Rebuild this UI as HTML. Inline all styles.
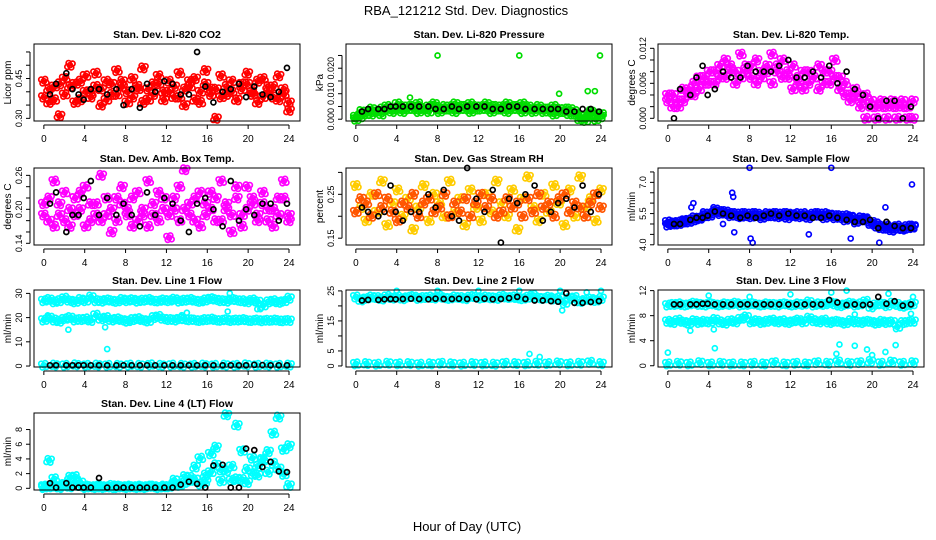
<!DOCTYPE html>
<html><head><meta charset="utf-8"><style>
html,body{margin:0;padding:0;background:#fff;width:936px;height:540px;overflow:hidden}
svg text{font-family:"Liberation Sans",Arial,sans-serif}
</style></head><body>
<svg id="chart" width="936" height="540" viewBox="0 0 936 540" xmlns="http://www.w3.org/2000/svg">
<text x="466" y="15" font-size="13" text-anchor="middle">RBA_121212  Std. Dev. Diagnostics</text>
<text x="467" y="531" font-size="13" text-anchor="middle">Hour of Day (UTC)</text>
</svg>
<script>
const blackHours=[0.6,1.2,2.2,2.8,3.4,3.9,4.6,5.4,6.2,7.1,7.8,8.6,9.4,10.1,10.9,11.8,12.6,13.4,14.2,15.0,15.8,16.6,17.5,18.3,19.1,19.8,20.6,21.4,22.2,23.0,23.8];
const xTicks=[0,4,8,12,16,20,24];
// CO2
const co2A=[0.44,0.36,0.42,0.31,0.45,0.50,0.43,0.37,0.46,0.40,0.47,0.35,0.44,0.39,0.48,0.42,0.36,0.45,0.41,0.49,0.37,0.43,0.46,0.40,0.44,0.38,0.47,0.35,0.42,0.45,0.36,0.48,0.41,0.30,0.46,0.39,0.44,0.37,0.43,0.47,0.40,0.36,0.45,0.42,0.38,0.46,0.41,0.33];
const co2B=[0.38,0.41,0.37,0.43,0.39,0.42,0.36,0.44,0.40,0.38,0.42,0.41,0.37,0.43,0.39,0.44,0.40,0.38,0.42,0.36,0.41,0.39,0.43,0.37,0.40,0.42,0.38,0.41,0.44,0.37,0.40,0.43,0.39,0.41,0.38,0.42,0.40,0.37,0.41,0.43,0.39,0.44,0.38,0.40,0.42,0.37,0.39,0.36];
const co2Black=[0.39,0.43,0.47,0.41,0.39,0.37,0.41,0.41,0.39,0.41,0.35,0.41,0.34,0.43,0.40,0.44,0.43,0.39,0.39,0.55,0.42,0.36,0.40,0.41,0.43,0.38,0.42,0.39,0.38,0.40,0.49];
const co2Ticks=[0.30,0.35,0.40,0.45,0.50,0.55], co2Labels=[0.30,0.45];
// Pressure
const prA=[0.001,0.003,0.002,0.004,0.003,0.004,0.005,0.004,0.006,0.005,0.004,0.005,0.006,0.004,0.005,0.006,0.004,0.005,0.005,0.006,0.004,0.005,0.006,0.005,0.004,0.006,0.005,0.004,0.005,0.006,0.005,0.004,0.006,0.005,0.004,0.005,0.004,0.003,0.005,0.004,0.003,0.004,0.002,0.000,0.001,0.003,0.002,0.001];
const prB=[0.000,0.001,0.003,0.002,0.003,0.002,0.004,0.003,0.004,0.003,0.005,0.004,0.003,0.004,0.003,0.005,0.003,0.004,0.004,0.003,0.005,0.004,0.003,0.004,0.005,0.004,0.003,0.005,0.004,0.003,0.004,0.005,0.003,0.004,0.003,0.004,0.003,0.004,0.002,0.003,0.004,0.002,0.003,0.001,-0.0005,0.002,0.000,0.002];
const prOutX=[8,16,23.9,19.9,22.7,23.4,5.3], prOutY=[0.025,0.025,0.025,0.010,0.011,0.011,0.0085];
const prBlack=[0.003,0.004,0.004,0.004,0.005,0.005,0.005,0.005,0.005,0.005,0.004,0.004,0.005,0.004,0.005,0.005,0.005,0.004,0.004,0.005,0.005,0.004,0.004,0.004,0.004,0.004,0.003,0.003,0.004,0.004,0.003];
const prTicks=[0,0.005,0.010,0.015,0.020,0.025], prLabels=[0,0.010,0.020];
// Temp
const tpA=[0.004,0.002,0.003,0.005,0.004,0.006,0.005,0.007,0.006,0.008,0.007,0.010,0.009,0.008,0.011,0.009,0.007,0.010,0.008,0.009,0.011,0.008,0.010,0.007,0.009,0.006,0.005,0.008,0.007,0.009,0.006,0.008,0.010,0.007,0.006,0.004,0.005,0.003,0.004,0.003,0.002,0.003,0.002,0.003,0.002,0.003,0.002,0.003];
const tpB=[0.003,0.004,0.002,0.003,0.005,0.004,0.007,0.006,0.008,0.006,0.009,0.007,0.008,0.006,0.007,0.008,0.009,0.006,0.007,0.008,0.006,0.009,0.007,0.008,0.005,0.007,0.008,0.006,0.007,0.005,0.008,0.006,0.007,0.005,0.004,0.003,0.004,0.002,0,0.002,0,0.002,0,0.002,0,0.002,0,0];
const tpBlack=[0,0.005,0.004,0.007,0.009,0.004,0.005,0.008,0.007,0.007,0.009,0.008,0.008,0.008,0.009,0.010,0.007,0.007,0.008,0.007,0.009,0.006,0.008,0.005,0.004,0.002,0.000,0.003,0.003,0.000,0.002];
const tpTicks=[0,0.002,0.004,0.006,0.008,0.010,0.012], tpLabels=[0,0.006,0.012];
// Amb box temp
const abA=[0.21,0.18,0.25,0.19,0.23,0.17,0.22,0.20,0.24,0.18,0.21,0.26,0.19,0.16,0.22,0.24,0.20,0.17,0.23,0.19,0.25,0.21,0.18,0.22,0.15,0.20,0.24,0.27,0.19,0.22,0.17,0.21,0.23,0.18,0.25,0.20,0.16,0.22,0.19,0.24,0.21,0.18,0.23,0.20,0.17,0.22,0.25,0.19];
const abB=[0.19,0.22,0.17,0.21,0.18,0.20,0.19,0.23,0.17,0.21,0.19,0.18,0.22,0.20,0.18,0.21,0.19,0.22,0.18,0.20,0.17,0.19,0.23,0.20,0.19,0.22,0.18,0.20,0.21,0.18,0.23,0.19,0.20,0.22,0.18,0.21,0.19,0.24,0.17,0.20,0.22,0.19,0.21,0.18,0.20,0.19,0.22,0.18];
const abBlack=[0.21,0.23,0.16,0.19,0.19,0.22,0.25,0.19,0.22,0.19,0.21,0.19,0.17,0.23,0.19,0.22,0.21,0.18,0.16,0.21,0.22,0.20,0.17,0.25,0.18,0.20,0.19,0.21,0.21,0.18,0.21];
const abTicks=[0.14,0.16,0.18,0.20,0.22,0.24,0.26], abLabels=[0.14,0.20,0.26];
// RH
const rhA=[0.27,0.22,0.19,0.25,0.21,0.28,0.18,0.23,0.26,0.20,0.24,0.17,0.22,0.27,0.19,0.25,0.23,0.20,0.28,0.21,0.24,0.18,0.26,0.22,0.19,0.25,0.21,0.28,0.23,0.20,0.26,0.17,0.24,0.29,0.22,0.19,0.25,0.21,0.27,0.23,0.18,0.26,0.20,0.29,0.22,0.24,0.19,0.26];
const rhB=[0.21,0.24,0.23,0.20,0.25,0.22,0.24,0.21,0.19,0.23,0.22,0.25,0.20,0.23,0.24,0.21,0.22,0.25,0.20,0.23,0.21,0.24,0.20,0.23,0.25,0.22,0.24,0.20,0.21,0.24,0.22,0.23,0.20,0.24,0.21,0.25,0.22,0.23,0.20,0.24,0.25,0.21,0.23,0.22,0.20,0.23,0.25,0.22];
const rhBlack=[0.22,0.21,0.20,0.21,0.27,0.21,0.19,0.21,0.21,0.25,0.22,0.26,0.20,0.19,0.31,0.24,0.21,0.26,0.14,0.24,0.23,0.25,0.27,0.19,0.21,0.23,0.24,0.22,0.27,0.21,0.25];
const rhTicks=[0.15,0.20,0.25,0.30], rhLabels=[0.15,0.25];
// Sample flow
const sfA=[5.1,5.0,5.1,5.1,5.2,5.2,5.3,5.4,5.5,5.6,5.6,5.5,5.5,5.4,5.5,5.4,5.5,5.4,5.4,5.5,5.4,5.5,5.4,5.5,5.4,5.5,5.4,5.4,5.5,5.4,5.5,5.4,5.4,5.3,5.4,5.3,5.2,5.3,5.2,5.1,5.0,4.9,4.8,4.8,4.9,4.8,4.8,4.9];
const sfB=[4.95,5.05,5.0,5.15,5.1,5.3,5.25,5.5,5.4,5.7,5.5,5.6,5.4,5.5,5.35,5.5,5.35,5.5,5.3,5.4,5.5,5.35,5.5,5.3,5.45,5.35,5.5,5.3,5.4,5.5,5.3,5.45,5.3,5.4,5.2,5.35,5.1,5.2,5.25,5.0,4.9,4.8,4.9,4.7,4.8,4.75,4.9,4.85];
const sfOutX=[8.0,16.0,23.9,6.3,6.4,2.5,2.3,8.1,8.3,6.5,17.9,13.8,20.7,21.3,5.4], sfOutY=[7.7,7.7,6.9,6.5,6.3,6.0,5.8,4.3,4.1,4.6,4.3,4.5,4.1,5.8,5.0];
const sfBlack=[5.0,5.0,5.2,5.3,5.3,5.4,5.6,5.5,5.4,5.3,5.4,5.3,5.4,5.5,5.4,5.5,5.4,5.4,5.3,5.3,5.4,5.3,5.2,5.1,5.1,5.2,4.8,5.1,4.9,4.8,4.8];
const sfTicks=[4.0,4.5,5.0,5.5,6.0,6.5,7.0,7.5], sfLabels=[4.0,5.5,7.0];
// Line 1
const l1A=[27,27.5,26.5,27,28,27,26.5,27.5,27,28.5,27,26.8,27.3,27,26.7,27.5,27,27.4,26.8,27.2,27.5,27,26.9,27.3,27,27.6,26.8,27.2,27.5,27,26.7,27.3,27.8,27.4,27,26.8,27.5,27.2,27,26.5,27.3,26.6,25,26.5,27,26.3,26.8,28];
const l1B=[19,20,19,18.5,19.5,20,19,19.2,19.5,18.8,21,19.5,20,19,19.5,19,18.5,19.2,19.6,19,18.6,20,20.5,19.5,19.2,19,19.5,19.3,19.1,19,18.8,19.2,19.4,19,18.9,19.1,18.8,19,19.2,18.9,18.8,19,18.7,18.9,19,18.8,18.7,18.8];
const l1C=[0.3,0.4,0.3,0.5,0.3,0.4,0.3,0.3,0.4,0.3,0.5,0.3,0.4,0.3,0.3,0.4,0.3,0.4,0.3,0.5,0.3,0.4,0.3,0.4];
const l1OutX=[2.4,6.0,6.2,18.0,18.2,0.4,20.9,21.2,13.5,14.0], l1OutY=[15,16,7,22.5,30,20.5,23.5,23.5,21,22];
const l1Black=[0.3,0.3,0.3,0.3,0.3,0.3,0.3,0.3,0.3,0.3,0.3,0.3,0.3,0.3,0.3,0.3,0.3,0.3,0.3,0.3,0.3,0.3,0.3,0.3,0.3,0.3,0.5,0.4,0.3,0.3,0.3];
const l1Ticks=[0,10,20,30], l1Labels=[0,10,20,30];
// Line 2
const l2A=[23,22,22.5,23,22.8,22.3,23.2,22.6,23,22.4,22.9,23.1,22.5,22.8,23,22.6,23.2,22.7,22.5,23,22.8,22.4,23.1,22.9,22.6,23,22.7,22.5,23.2,22.8,23,22.6,22.4,22.9,23.5,22.7,22.5,22.9,22.3,22.6,21,22.5,22.8,21.5,22,22.3,21.8,22.5];
const l2B=[0.7,0.8,0.6,0.9,0.7,0.8,0.6,0.7,0.9,0.7,0.6,0.8,0.7,0.6,0.9,0.8,0.7,0.9,0.8,1.0,0.7,0.9,1.2,0.8];
const l2OutX=[4,8,12,16,20,24,20.2,17,18,22.6], l2OutY=[25,25,25,25,25,25,18.5,4,3,24.5];
const l2Black=[21.8,22,22,22.2,22.3,22.2,22.3,22.4,22.3,22.2,22.4,22.3,22.3,22.4,22.3,22.2,22.4,22.2,22.3,22.6,23,22.3,21.8,21.8,21.6,21.4,24.2,21,21,21.3,21.6];
const l2Ticks=[0,5,10,15,20,25], l2Labels=[0,5,15,25];
// Line 3
const l3A=[9.7,9.8,9.9,9.7,9.8,10,9.8,9.7,9.9,9.8,9.7,9.9,9.8,10,9.7,9.8,9.9,9.8,9.7,9.9,9.8,9.7,9.9,9.8,9.7,9.9,9.8,10.2,9.7,9.9,9.8,10.1,9.9,9.6,9.8,10,9.7,9.9,10.3,9.4,9.8,9.9,9.6,10,9.8,9.5,9.7,9.9];
const l3B=[7.1,6.9,7.3,7.0,6.8,7.2,6.9,7.1,7.0,7.4,7.0,6.8,7.2,7.0,7.5,7.8,7.0,7.2,6.9,7.1,7.3,7.0,7.2,6.9,7.1,7.3,7.0,7.6,7.2,7.0,7.3,6.9,7.1,7.0,6.8,7.2,7.0,6.9,7.1,7.0,6.8,7.1,6.9,7.0,6.2,6.9,7.0,7.1];
const l3C=[0.3,0.4,0.3,0.5,0.3,0.4,0.3,0.3,0.4,0.3,0.5,0.3,0.4,0.3,0.5,0.4,0.6,0.4,0.5,0.7,0.4,0.6,0.4,0.5];
const l3OutX=[0,2.2,4.5,4.6,4.0,8,12,16,17.5,16.8,18.3,19.5,20,22.3,21.3,21.6,18.3,23.8,24,16.5], l3OutY=[2.1,5.6,5.8,2.8,11.2,11,11.4,11.7,12,3.4,3.2,2.6,1.7,3.3,2.2,11.5,8.2,8.3,11,1.9];
const l3Black=[9.8,9.8,9.8,9.8,9.9,9.9,9.8,9.8,9.8,9.8,9.8,9.8,9.8,9.8,9.8,9.8,9.8,9.8,9.8,9.8,10.5,10.1,9.7,9.8,9.7,9.8,11,9.9,10.3,9.6,9.8];
const l3Ticks=[0,4,8,12], l3Labels=[0,4,8,12];
// Line 4
const l4A=[0.3,3.8,1.3,0.2,0.4,1.5,1.6,0.8,0.3,0.2,0.1,0.3,0.2,0.4,0.1,0.2,0.3,0.2,0.1,0.2,0.3,0.2,0.1,0.3,0.2,1.1,0.4,1.6,1.0,2.9,4.1,0.9,4.7,5.6,2.5,10.0,3.0,8.6,1.2,2.6,4.1,1.8,3.8,5.0,7.5,9.7,5.3,0.4];
const l4B=[0.1,0.2,0.3,0.1,0.6,0.2,0.9,0.3,0.1,0.2,0.3,0.1,0.2,0.1,0.3,0.2,0.1,0.2,0.3,0.1,0.2,0.3,0.1,0.2,0.3,0.6,0.5,0.8,1.5,1.2,0.6,1.8,2.2,3.2,1.0,2.4,1.1,1.3,5.1,0.8,2.0,3.0,4.0,2.2,3.4,2.7,1.9,5.8];
const l4Black=[0.7,0.1,0.7,0.1,0.1,0.1,0.1,1.4,0.1,0.1,0.1,0.1,0.1,0.1,0.1,0.1,0.1,0.5,0.9,0.6,0.1,3.1,3.2,0.1,0.1,5.4,5.2,2.9,3.6,2.3,2.2];
const l4Ticks=[0,2,4,6,8], l4Labels=[0,2,4,6,8];

const NS='http://www.w3.org/2000/svg';
const svg=document.getElementById('chart');
function mk(tag,attrs,parent){const e=document.createElementNS(NS,tag);for(const k in attrs)e.setAttribute(k,attrs[k]);(parent||svg).appendChild(e);return e;}
const colL=[34,346,658], rowT=[44,168,290,413], W=266, H=77;
const evenX=n=>Array.from({length:n},(_,i)=>i*24/(n-1));
const panels=[
 {key:'co2',title:'Stan. Dev. Li-820 CO2',ylab:'Licor ppm',c:0,r:0,y0:0.29,y1:0.58,ticks:co2Ticks,labels:co2Labels,dec:2,color:'#ff0000',series:[co2A,co2B],out:null,black:co2Black},
 {key:'pressure',title:'Stan. Dev. Li-820 Pressure',ylab:'kPa',c:1,r:0,y0:-0.0007,y1:0.0295,ticks:prTicks,labels:prLabels,dec:3,color:'#00dd00',series:[prA,prB],out:[prOutX,prOutY],black:prBlack},
 {key:'temp',title:'Stan. Dev. Li-820 Temp.',ylab:'degrees C',c:2,r:0,y0:-0.00046,y1:0.01274,ticks:tpTicks,labels:tpLabels,dec:3,color:'#ff00ff',series:[tpA,tpB],out:null,black:tpBlack},
 {key:'amb',title:'Stan. Dev. Amb. Box Temp.',ylab:'degrees C',c:0,r:1,y0:0.137,y1:0.273,ticks:abTicks,labels:abLabels,dec:2,color:'#ff00ff',series:[abA,abB],out:null,black:abBlack},
 {key:'rh',title:'Stan. Dev. Gas Stream RH',ylab:'percent',c:1,r:1,y0:0.1345,y1:0.31,ticks:rhTicks,labels:rhLabels,dec:2,color:['#ffcc00','#ff5500'],series:[rhA,rhB],out:null,black:rhBlack},
 {key:'sample',title:'Stan. Dev. Sample Flow',ylab:'ml/min',c:2,r:1,y0:3.99,y1:7.69,ticks:sfTicks,labels:sfLabels,dec:1,color:'#0000ff',series:[sfA,sfB],out:[sfOutX,sfOutY],black:sfBlack},
 {key:'line1',title:'Stan. Dev. Line 1 Flow',ylab:'ml/min',c:0,r:2,y0:-0.4,y1:31.4,ticks:l1Ticks,labels:l1Labels,dec:0,color:'#00ffff',series:[l1A,l1B,l1C],out:[l1OutX,l1OutY],black:l1Black},
 {key:'line2',title:'Stan. Dev. Line 2 Flow',ylab:'ml/min',c:1,r:2,y0:-0.35,y1:25.3,ticks:l2Ticks,labels:l2Labels,dec:0,color:'#00ffff',series:[l2A,l2B],out:[l2OutX,l2OutY],black:l2Black},
 {key:'line3',title:'Stan. Dev. Line 3 Flow',ylab:'ml/min',c:2,r:2,y0:-0.2,y1:12.1,ticks:l3Ticks,labels:l3Labels,dec:0,color:'#00ffff',series:[l3A,l3B,l3C],out:[l3OutX,l3OutY],black:l3Black},
 {key:'line4',title:'Stan. Dev. Line 4 (LT) Flow',ylab:'ml/min',c:0,r:3,y0:-0.23,y1:10.25,ticks:l4Ticks,labels:l4Labels,dec:0,color:'#00ffff',series:[l4A,l4B],out:null,black:l4Black}
];
const jitter=[[0,0],[2.6,-1.6],[-2.6,1.6],[1.3,2.2],[-1.3,-2.2]];
panels.forEach(p=>{
 const L=colL[p.c], T=rowT[p.r];
 const xs=v=>L+9.85+v*(W-9.85-11)/24;
 const ys=v=>T+H-(v-p.y0)/(p.y1-p.y0)*H;
 const g=mk('g',{});
 
 
 const t=mk('text',{x:L+W/2,y:T-6,'font-size':10.5,'font-weight':'bold','text-anchor':'middle'},g);
 t.textContent=p.title;
 
 
 const pts=mk('g',{fill:'none','stroke-width':1.7},g);
 
 
 p.series.forEach((s,si)=>{
  const xv=evenX(s.length);
  const col=Array.isArray(p.color)?p.color[si%p.color.length]:p.color;
  s.forEach((v,i)=>{
   jitter.forEach(j=>{
    const c=mk('circle',{cx:xs(xv[i])+j[0],cy:ys(v)+(i%2?j[1]:-j[1]),r:2.5,stroke:col},pts);
    
    
   });
  });
 });
 if(p.out){p.out[0].forEach((xv,i)=>{
   const col=Array.isArray(p.color)?p.color[0]:p.color;
   const c=mk('circle',{cx:xs(xv),cy:ys(p.out[1][i]),r:2.5,stroke:col},pts);
   
   
 });}
 p.black.forEach((v,i)=>{
   const c=mk('circle',{cx:xs(blackHours[i]),cy:ys(v),r:2.5,stroke:'#000'},pts);
   
   
 });
 const box=mk('rect',{x:L,y:T,width:W,height:H,fill:'none',stroke:'#000','stroke-width':1},g);
 
 
 const ax=mk('g',{stroke:'#000','stroke-width':1},g);
 
 
 mk('line',{x1:xs(0),x2:xs(24),y1:T+H+4,y2:T+H+4},ax);
 xTicks.forEach(v=>{
  mk('line',{x1:xs(v),x2:xs(v),y1:T+H+4,y2:T+H+8},ax);
  const tx=mk('text',{x:xs(v),y:T+H+21,'font-size':10,'text-anchor':'middle',stroke:'none'},ax);
  tx.textContent=v;
  
  
 });
 const ay=mk('g',{stroke:'#000','stroke-width':1},g);
 
 
 mk('line',{x1:L-4,x2:L-4,y1:ys(p.ticks[0]),y2:ys(p.ticks[p.ticks.length-1])},ay);
 p.ticks.forEach(v=>{mk('line',{x1:L-8,x2:L-4,y1:ys(v),y2:ys(v)},ay);});
 p.labels.forEach(v=>{
  const yy=ys(v);
  const tx=mk('text',{x:0,y:0,'font-size':9,'text-anchor':'middle',stroke:'none',transform:`translate(${L-12},${yy}) rotate(-90)`},ay);
  tx.textContent=v.toFixed(p.dec);
  
  
 });
 const yl=mk('text',{x:0,y:0,'font-size':10,'text-anchor':'middle',transform:`translate(${L-23},${T+H/2}) rotate(-90)`},g);
 yl.textContent=p.ylab;
 
 
});
</script>
</body></html>
